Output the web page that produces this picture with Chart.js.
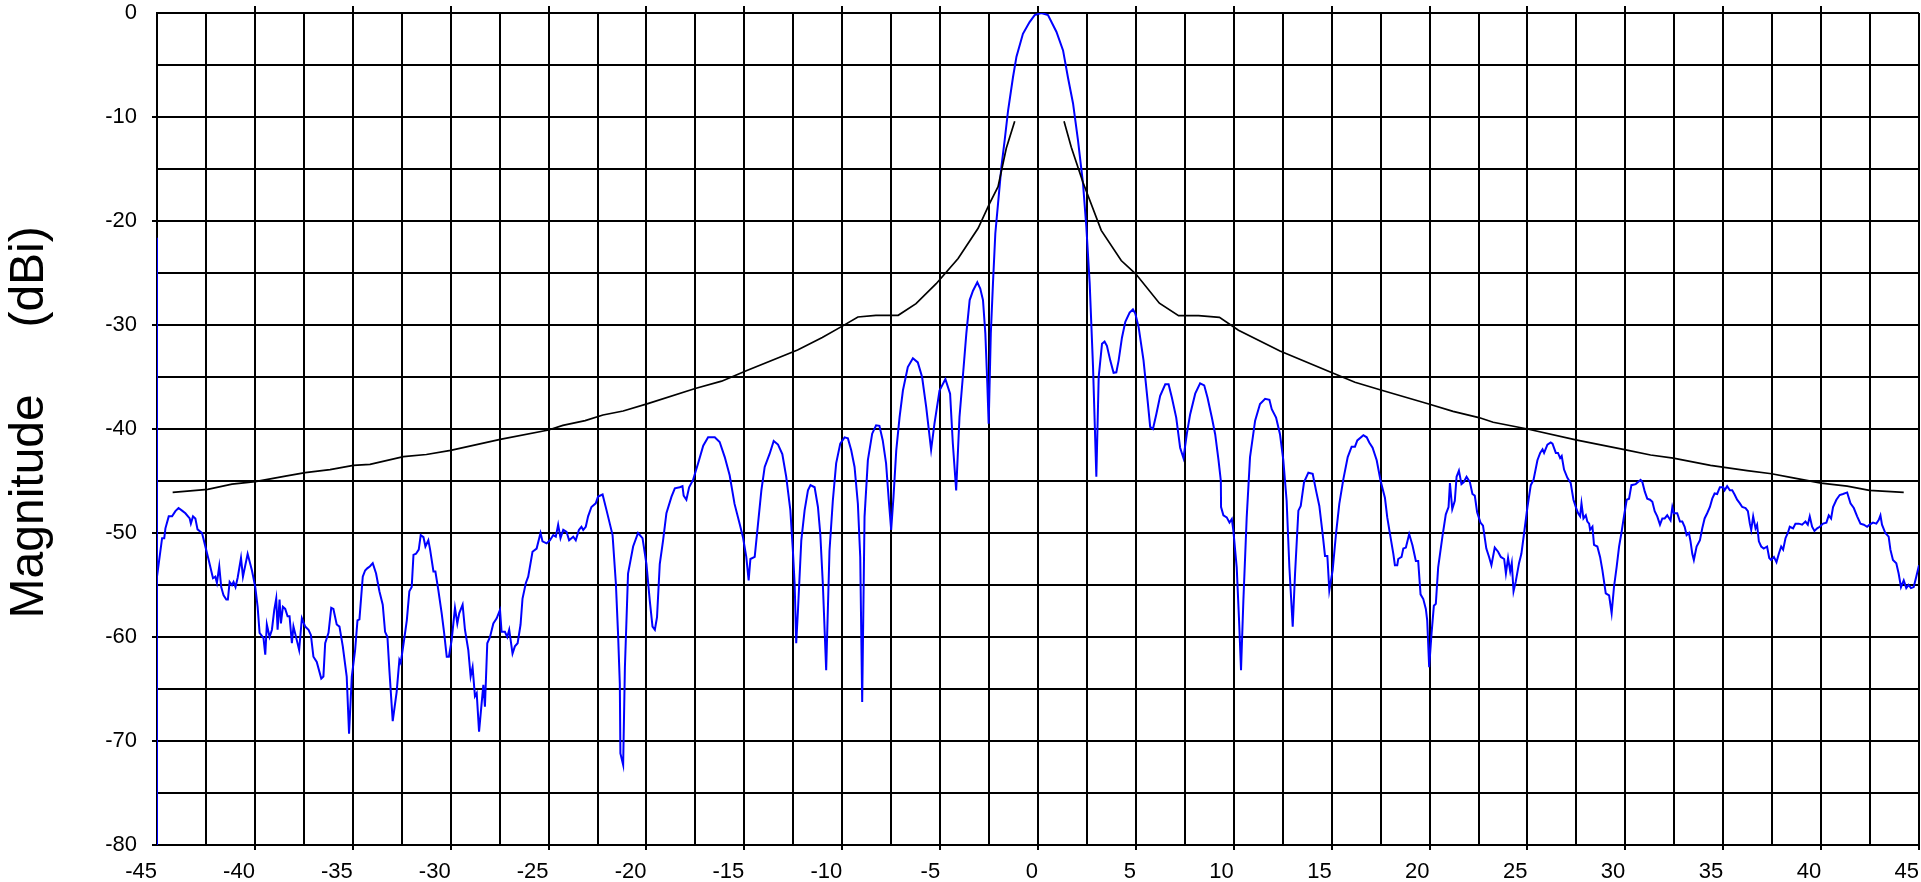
<!doctype html>
<html>
<head>
<meta charset="utf-8" />
<title>Antenna pattern - Magnitude (dBi)</title>
<style>
  html, body { margin: 0; padding: 0; background: #fff; }
  #wrap { position: relative; width: 1921px; height: 882px; }
</style>
</head>
<body>
<div id="wrap"><canvas id="patternChart"></canvas></div>

<script src="https://cdn.jsdelivr.net/npm/chart.js"></script>
<script>
// measured pattern, [angle (deg), magnitude (dBi)]
const measuredPattern = [
  [-45, -21.6], [-45, -80], [-45, -54.2],
  [-44.74, -50.5], [-44.63, -50.5], [-44.57, -49.55], [-44.4, -48.4], [-44.23, -48.4], [-44.06, -47.9],
  [-43.9, -47.6], [-43.72, -47.85], [-43.55, -48.1], [-43.33, -48.6], [-43.27, -49.1], [-43.16, -48.4],
  [-43.04, -48.6], [-42.93, -49.65], [-42.7, -50], [-42.53, -51.3], [-42.36, -52.6], [-42.14, -54.35],
  [-42.02, -54.2], [-41.94, -54.8], [-41.82, -53.2], [-41.72, -55.2], [-41.6, -56], [-41.46, -56.4],
  [-41.38, -56.4], [-41.29, -54.7], [-41.17, -55], [-41.09, -54.7], [-40.99, -55.2], [-40.88, -54.3],
  [-40.71, -52.4], [-40.61, -54.2], [-40.37, -52], [-40.15, -53.6], [-39.98, -55.2], [-39.86, -57.1],
  [-39.76, -59.6], [-39.56, -60.1], [-39.47, -61.7], [-39.39, -58.8], [-39.25, -60], [-39.13, -59.3],
  [-39.01, -57.4], [-38.91, -56.3], [-38.84, -59.3], [-38.74, -56.4], [-38.67, -58.7], [-38.57, -57.1],
  [-38.45, -57.3], [-38.33, -58], [-38.23, -58], [-38.11, -60.6], [-38.03, -59], [-37.86, -60.3],
  [-37.74, -61.25], [-37.6, -58.2], [-37.43, -59], [-37.26, -59.3], [-37.14, -59.8], [-37.01, -61.9],
  [-36.84, -62.4], [-36.61, -64], [-36.5, -63.8], [-36.41, -60.6], [-36.24, -59.6], [-36.1, -57.2],
  [-35.99, -57.3], [-35.82, -58.8], [-35.68, -59], [-35.51, -60.9], [-35.31, -63.8], [-35.19, -69.3],
  [-35.05, -63.8], [-34.88, -61.25], [-34.76, -58.4], [-34.66, -58.3], [-34.49, -54.2], [-34.37, -53.6],
  [-34.26, -53.4], [-34.12, -53.2], [-33.98, -52.9], [-33.81, -53.9], [-33.64, -55.6], [-33.47, -56.9],
  [-33.35, -59.5], [-33.23, -60], [-33.13, -63.2], [-32.96, -68.1], [-32.76, -65.3], [-32.62, -62.2],
  [-32.55, -62.5], [-32.38, -60.3], [-32.24, -58.4], [-32.11, -55.6], [-31.99, -55.2], [-31.9, -52.1],
  [-31.77, -52], [-31.63, -51.6], [-31.53, -50.2], [-31.39, -50.4], [-31.29, -51.3], [-31.14, -50.7],
  [-31.05, -51.6], [-30.88, -53.7], [-30.78, -53.7], [-30.63, -55.5], [-30.46, -57.7], [-30.34, -59.5],
  [-30.2, -61.9], [-30.09, -61.9], [-29.95, -60.3], [-29.78, -57.2], [-29.66, -58.7], [-29.56, -57.7],
  [-29.39, -56.9], [-29.27, -59.3], [-29.1, -61.25], [-28.98, -63.8], [-28.88, -62.9], [-28.76, -65.7],
  [-28.67, -65.4], [-28.55, -69.1], [-28.42, -66.4], [-28.33, -64.6], [-28.25, -66.7], [-28.13, -60.6],
  [-27.99, -60], [-27.82, -58.7], [-27.65, -58.2], [-27.48, -57.4], [-27.4, -59.5], [-27.23, -59.5],
  [-27.11, -60], [-27.01, -59.3], [-26.84, -61.6], [-26.72, -60.9], [-26.58, -60.6], [-26.43, -58.8],
  [-26.33, -56.3], [-26.16, -54.8], [-26.04, -54.2], [-25.82, -51.8], [-25.61, -51.5], [-25.41, -50],
  [-25.31, -50.8], [-25.1, -51], [-24.93, -50.7], [-24.76, -50.2], [-24.63, -50.35], [-24.51, -49.2],
  [-24.39, -50.5], [-24.25, -49.7], [-24.08, -49.9], [-23.95, -50.7], [-23.74, -50.35], [-23.61, -50.7],
  [-23.45, -49.7], [-23.32, -49.4], [-23.23, -49.7], [-23.1, -49.4], [-22.98, -48.4], [-22.81, -47.5],
  [-22.59, -47.15], [-22.47, -46.5], [-22.24, -46.3], [-22.04, -47.8], [-21.73, -50.2], [-21.56, -54.9],
  [-21.45, -59.7], [-21.36, -64.5], [-21.33, -71.2], [-21.19, -72.3], [-21.1, -62.9], [-20.94, -53.9],
  [-20.68, -51.3], [-20.43, -50], [-20.2, -50.5], [-20, -53], [-19.83, -56.5], [-19.69, -59],
  [-19.57, -59.3], [-19.46, -58.1], [-19.32, -53], [-19.15, -50.7], [-18.98, -48.1], [-18.72, -46.5],
  [-18.55, -45.7], [-18.3, -45.6], [-18.16, -45.5], [-18.1, -46.4], [-17.96, -46.8], [-17.82, -45.6],
  [-17.62, -44.9], [-17.36, -43.3], [-17.1, -41.6], [-16.85, -40.8], [-16.51, -40.8], [-16.26, -41.25],
  [-16, -42.7], [-15.75, -44.45], [-15.5, -47.2], [-15.24, -49.1], [-15.07, -50.4], [-14.9, -52.3],
  [-14.78, -54.55], [-14.69, -52.5], [-14.47, -52.3], [-14.3, -49.1], [-14.13, -45.9], [-13.96, -43.65],
  [-13.71, -42.4], [-13.5, -41.15], [-13.28, -41.5], [-13.06, -42.4], [-12.86, -44.6], [-12.65, -47.8],
  [-12.52, -51.7], [-12.43, -54.9], [-12.35, -60.6], [-12.26, -57.4], [-12.09, -50.7], [-11.92, -47.8],
  [-11.75, -45.9], [-11.62, -45.4], [-11.41, -45.6], [-11.24, -47.5], [-11.12, -50.1], [-10.99, -54.9],
  [-10.82, -63.2], [-10.65, -51.7], [-10.48, -46.9], [-10.31, -43.3], [-10.1, -41.4], [-9.88, -40.8],
  [-9.71, -40.9], [-9.54, -42.05], [-9.37, -43.65], [-9.2, -47.2], [-9.08, -52.3], [-8.98, -66.25],
  [-8.86, -48.45], [-8.69, -43], [-8.47, -40.45], [-8.27, -39.65], [-8.1, -39.7], [-7.93, -41.1],
  [-7.76, -43.3], [-7.62, -46.9], [-7.5, -49.7], [-7.38, -46.5], [-7.24, -42.05], [-7.07, -38.85],
  [-6.9, -36.3], [-6.65, -34.04], [-6.39, -33.2], [-6.14, -33.6], [-5.92, -35], [-5.71, -37.9],
  [-5.46, -42], [-5.29, -39.5], [-5.03, -36.3], [-4.73, -35.2], [-4.49, -36.6], [-4.35, -41.4],
  [-4.18, -45.9], [-4.01, -38.85], [-3.84, -35], [-3.66, -30.8], [-3.49, -27.6], [-3.32, -26.7],
  [-3.1, -25.9], [-2.95, -26.5], [-2.81, -27.6], [-2.69, -30.8], [-2.59, -35.6], [-2.52, -39.5],
  [-2.41, -30.8], [-2.3, -26], [-2.18, -21.2], [-2.04, -18.3], [-1.87, -14.8], [-1.7, -12.2],
  [-1.53, -9.4], [-1.28, -6.2], [-1.1, -4.2], [-0.77, -2], [-0.43, -0.87], [-0.17, -0.2],
  [0.17, 0], [0.51, -0.2], [0.94, -1.8], [1.28, -3.6], [1.53, -6.2], [1.79, -8.7],
  [2.04, -12.2], [2.3, -16.4], [2.47, -20.6], [2.64, -26], [2.81, -34], [2.98, -44.6],
  [3.1, -35], [3.27, -31.8], [3.4, -31.6], [3.52, -32], [3.69, -33.4], [3.86, -34.6],
  [4, -34.55], [4.12, -33.4], [4.29, -31.2], [4.46, -29.7], [4.68, -28.8], [4.85, -28.5],
  [4.97, -28.9], [5.14, -30.2], [5.39, -33.4], [5.6, -37.3], [5.73, -39.8], [5.87, -40],
  [6.04, -38.6], [6.24, -36.8], [6.5, -35.7], [6.67, -35.7], [6.84, -37], [7.06, -38.9],
  [7.26, -41.8], [7.43, -42.8], [7.6, -40.5], [7.77, -38.6], [8.03, -36.6], [8.28, -35.6],
  [8.49, -35.8], [8.66, -37], [8.88, -38.9], [9.05, -40.5], [9.22, -43], [9.34, -45],
  [9.35, -47.5], [9.47, -48.3], [9.64, -48.5], [9.78, -49], [9.9, -48.65], [9.98, -49.8],
  [10.15, -53.3], [10.27, -58.4], [10.37, -63.2], [10.49, -56.5], [10.66, -48.5], [10.83, -42.7],
  [11.09, -39.2], [11.34, -37.6], [11.6, -37.1], [11.82, -37.2], [11.94, -38.1], [12.16, -38.9],
  [12.36, -40.5], [12.53, -43], [12.7, -46.9], [12.84, -53.3], [13.01, -59], [13.13, -53.9],
  [13.3, -47.85], [13.42, -47.4], [13.59, -45.1], [13.81, -44.2], [14.03, -44.3], [14.2, -45.9],
  [14.37, -47.4], [14.54, -50.1], [14.66, -52.2], [14.78, -52.2], [14.88, -55.5], [15.05, -53.6],
  [15.22, -50.1], [15.39, -47.2], [15.6, -44.8], [15.82, -42.7], [16.02, -41.7], [16.19, -41.7],
  [16.31, -41.1], [16.62, -40.6], [16.79, -40.8], [16.92, -41.3], [17.09, -41.8], [17.3, -43],
  [17.5, -45], [17.72, -46.6], [17.84, -48.5], [17.98, -50.1], [18.15, -52], [18.23, -53.1],
  [18.35, -53.1], [18.4, -52.5], [18.57, -52.3], [18.66, -51.5], [18.79, -51.4], [18.96, -50.1],
  [19.13, -51.2], [19.3, -52.7], [19.42, -52.7], [19.54, -55.9], [19.68, -56.35], [19.81, -57.3],
  [19.88, -58.4], [19.98, -62.9], [20.1, -59.7], [20.22, -57], [20.32, -56.8], [20.44, -53.3],
  [20.66, -50.3], [20.83, -48.2], [20.97, -47.5], [21.04, -45.2], [21.16, -47.7], [21.29, -46.9],
  [21.38, -44.6], [21.5, -44], [21.63, -45.3], [21.75, -45.1], [21.89, -44.6], [22.06, -45.1],
  [22.19, -46.25], [22.31, -46.4], [22.43, -48], [22.6, -49], [22.73, -49.3], [22.9, -51.5],
  [23.04, -52.3], [23.16, -53.1], [23.33, -51.4], [23.5, -51.8], [23.64, -52.3], [23.81, -52.5],
  [23.9, -53.9], [24.01, -52.4], [24.12, -53.7], [24.2, -52.9], [24.29, -55.6], [24.4, -54.7],
  [24.57, -52.9], [24.69, -52], [24.83, -50], [25, -47.5], [25.17, -45.4], [25.31, -44.9],
  [25.51, -43], [25.65, -42.3], [25.77, -41.95], [25.85, -42.3], [26.02, -41.5], [26.19, -41.3],
  [26.28, -41.4], [26.45, -42.3], [26.56, -42.3], [26.67, -42.8], [26.75, -42.6], [26.87, -43.9],
  [27.04, -44.7], [27.21, -45.2], [27.35, -46.8], [27.47, -47.5], [27.59, -48.1], [27.69, -48.4],
  [27.76, -47.15], [27.86, -48.6], [27.98, -48.3], [28.06, -48.9], [28.15, -49.1], [28.2, -49.7],
  [28.32, -49.4], [28.4, -51.15], [28.57, -51.3], [28.71, -52.3], [28.83, -53.6], [29, -55.8],
  [29.17, -56], [29.3, -57.7], [29.42, -55.2], [29.56, -53.2], [29.68, -51.3], [29.8, -50],
  [29.93, -48.4], [30.07, -46.8], [30.19, -46.7], [30.31, -45.4], [30.53, -45.3], [30.65, -45.1],
  [30.78, -44.9], [30.87, -45.1], [30.99, -46], [31.12, -46.7], [31.26, -46.8], [31.38, -47],
  [31.5, -47.9], [31.63, -48.4], [31.77, -49.2], [31.89, -48.6], [32.01, -48.6], [32.14, -48.3],
  [32.31, -48.8], [32.4, -47.5], [32.48, -48.1], [32.65, -48.1], [32.79, -48.9], [32.91, -48.9],
  [33.03, -49.4], [33.13, -50.2], [33.25, -50], [33.33, -50.8], [33.42, -52], [33.5, -52.6],
  [33.64, -51.3], [33.81, -50.7], [33.93, -49.55], [34.05, -48.6], [34.18, -48.1], [34.32, -47.5],
  [34.44, -46.7], [34.56, -46.2], [34.69, -46.25], [34.83, -45.6], [35, -45.6], [35.07, -45.9],
  [35.2, -45.5], [35.34, -45.9], [35.46, -45.9], [35.58, -46.3], [35.71, -46.8], [35.85, -47.15],
  [35.97, -47.5], [36.14, -47.6], [36.26, -47.9], [36.36, -49.1], [36.43, -49.7], [36.53, -48.4],
  [36.65, -49.55], [36.73, -49.2], [36.82, -50.8], [36.94, -51.3], [37.07, -51.5], [37.24, -51.3],
  [37.35, -52.4], [37.45, -52.6], [37.59, -52.3], [37.72, -52.8], [37.84, -52], [37.96, -51.3],
  [38.06, -51.6], [38.18, -50.5], [38.3, -50], [38.4, -49.4], [38.57, -49.55], [38.69, -49.1],
  [38.86, -49.1], [39.03, -49.2], [39.2, -48.9], [39.32, -49.2], [39.42, -48.4], [39.54, -49.4],
  [39.66, -49.8], [39.8, -49.55], [39.93, -49.4], [40.1, -49.1], [40.27, -49], [40.39, -48.3],
  [40.51, -48.6], [40.61, -47.5], [40.78, -46.8], [40.95, -46.35], [41.12, -46.25], [41.33, -46.1],
  [41.5, -47.15], [41.67, -47.6], [41.84, -48.4], [42.01, -49.1], [42.18, -49.2], [42.35, -49.4],
  [42.48, -49.2], [42.65, -49], [42.82, -49.1], [42.94, -48.75], [43.03, -48.3], [43.11, -49.2],
  [43.28, -50], [43.45, -50.35], [43.54, -51.6], [43.67, -52.6], [43.84, -52.9], [43.96, -53.9],
  [44.08, -55.2], [44.22, -54.55], [44.35, -55.3], [44.47, -55], [44.59, -55.3], [44.73, -55.2],
  [44.86, -54.2], [45, -53.1]
];

// sidelobe envelope (black), left and right halves
const maskLeft = [
  [-44.2, -46.1], [-42.41, -45.8], [-41.17, -45.3], [-39.98, -45.06], [-38.37, -44.5], [-37.43, -44.2],
  [-36.16, -43.9], [-34.97, -43.5], [-34.12, -43.4], [-32.41, -42.66], [-31.24, -42.45], [-30, -42.05],
  [-27.47, -41], [-25, -40.1], [-24.27, -39.65], [-23.13, -39.2], [-22.22, -38.65], [-21.19, -38.27],
  [-19.93, -37.56], [-17.51, -36.1], [-16.16, -35.4], [-14.9, -34.4], [-12.28, -32.4], [-11.02, -31.2],
  [-9.95, -30.06], [-9.2, -29.23], [-8.28, -29.07], [-7.14, -29.07], [-6.23, -27.95], [-5.2, -26.03],
  [-4.08, -23.6], [-3.06, -20.7], [-2.47, -18.3], [-2.04, -16.7], [-1.62, -13], [-1.19, -10.4]
];
const maskRight = [
  [1.33, -10.4], [1.7, -12.9], [2.3, -16.3], [3.23, -20.9], [4.25, -23.8], [5, -25.1],
  [6.2, -27.9], [7.18, -29.1], [8.2, -29.1], [9.27, -29.26], [10.24, -30.5], [12.36, -32.5],
  [14.96, -34.55], [16.19, -35.5], [17.51, -36.25], [19.96, -37.6], [21.2, -38.3], [22.52, -38.9],
  [23.25, -39.35], [25, -40], [27.47, -41.05], [30.02, -42], [31.29, -42.5], [32.45, -42.8],
  [34.35, -43.5], [36.22, -44], [37.47, -44.3], [38.44, -44.65], [40, -45.2], [41.33, -45.5],
  [42.47, -45.9], [44.22, -46.1]
];

// leading space nudges the rotated title up a little, like the original
const yTitle = ' Magnitude     (dBi)';
const FONT = 'Liberation Sans, Arial, Helvetica, sans-serif';

function toXY(pairs) {
  return pairs.map(p => ({ x: p[0], y: p[1] }));
}

function lineSet(label, pairs, color, width) {
  return {
    label: label,
    data: toXY(pairs),
    borderColor: color,
    borderWidth: width,
    pointRadius: 0,
    tension: 0,
    fill: false
  };
}

// tick marks only on the labelled steps
function majorTick(step, skip) {
  return ctx => {
    const v = ctx.tick.value;
    return (Math.abs(v % step) < 1e-6 && skip.indexOf(v) < 0) ? '#000' : 'rgba(0,0,0,0)';
  };
}

new Chart(document.getElementById('patternChart'), {
  type: 'line',
  data: {
    datasets: [
      lineSet('Mask L', maskLeft, '#000000', 1.7),
      lineSet('Mask R', maskRight, '#000000', 1.7),
      lineSet('Measured', measuredPattern, '#0000ff', 2)
    ]
  },
  options: {
    animation: false,
    responsive: true,
    maintainAspectRatio: false,
    layout: { padding: { left: 0, right: 2, top: 0, bottom: 0 } },
    plugins: { legend: { display: false }, tooltip: { enabled: false } },
    scales: {
      x: {
        type: 'linear', position: 'bottom', min: -45, max: 45,
        ticks: {
          stepSize: 2.5, autoSkip: false, maxRotation: 0, align: 'end', padding: 9,
          color: '#000', font: { family: FONT, size: 22 },
          callback: v => (v % 5 === 0 ? String(v) : '')
        },
        grid: { color: '#000', lineWidth: 2, tickLength: 5, tickColor: majorTick(5, [-45]) },
        border: { color: '#000', width: 2 },
        afterFit: s => { s.height = 37; s.paddingLeft = 0; s.paddingRight = 0; }
      },
      xTop: {
        type: 'linear', position: 'top', min: -45, max: 45,
        ticks: { stepSize: 5, display: false },
        grid: { drawOnChartArea: false, color: '#000', lineWidth: 2, tickLength: 7, tickColor: majorTick(5, [-45, 45]) },
        border: { display: false },
        afterFit: s => { s.height = 13; s.paddingLeft = 0; s.paddingRight = 0; }
      },
      y: {
        min: -80, max: 0,
        ticks: {
          stepSize: 5, autoSkip: false, padding: 15,
          color: '#000', font: { family: FONT, size: 22 },
          callback: v => (v % 10 === 0 ? String(v) : '')
        },
        grid: { color: '#000', lineWidth: 2, tickLength: 5, tickColor: majorTick(10, [0]) },
        border: { color: '#000', width: 2 },
        title: {
          display: true, text: yTitle, color: '#000',
          font: { family: FONT, size: 48 }, padding: { top: 1, bottom: 0 }
        },
        afterFit: s => { s.width = 157; s.paddingTop = 0; s.paddingBottom = 0; }
      }
    }
  }
});
</script>
</body>
</html>
